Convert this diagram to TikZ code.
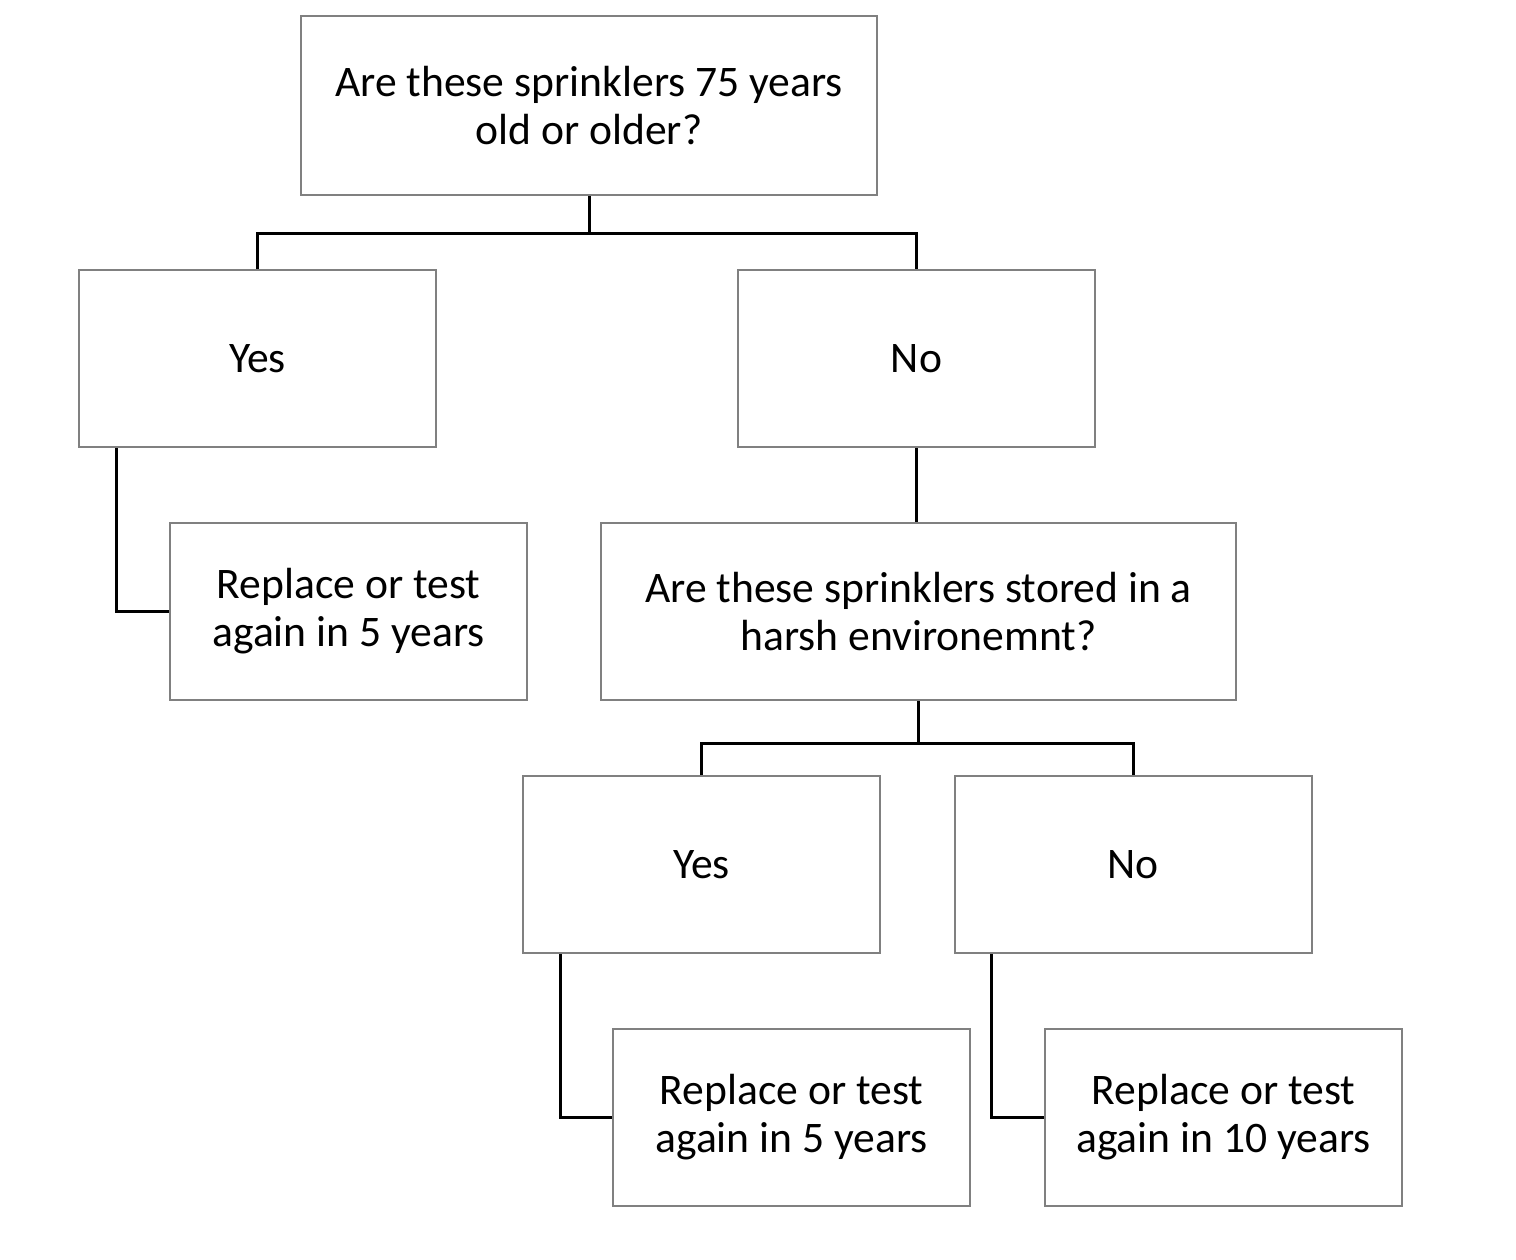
\documentclass[tikz,border=0pt]{standalone}
\usepackage{fontspec}
\setmainfont{Carlito}
\usepackage{xcolor}
\usetikzlibrary{calc}

\begin{document}
\begin{tikzpicture}[x=0.5pt,y=-0.5pt]
		\tikzset{
		    box/.style={rectangle,draw=black!50,line width=1pt,minimum width=178.5pt,minimum height=88.5pt,align=center,font=\fontsize{21.8}{24}\selectfont},
		    edge/.style={line width=1.5pt,black}
		}
		\useasboundingbox (0,0) rectangle (1516,1259);

		% vertices
		\node[box,minimum width=288pt,minimum height=89.5pt] (top) at (589,105.5) {Are these sprinklers 75 years\\old or older?};
		\node[box] (yes1) at (257.5,358.5) {Yes};
		\node[box] (no1) at (916.5,358.5) {No};
		\node[box] (rep1) at (348.5,611.5) {Replace or test\\again in 5 years};
		\node[box,minimum width=317.5pt] (harsh) at (918.5,611.5) {Are these sprinklers stored in a\\harsh environemnt?};
		\node[box] (yes2) at (701.5,864.5) {Yes};
		\node[box] (no2) at (1133,864.5) {No};
		\node[box] (rep2) at (791.5,1117.5) {Replace or test\\again in 5 years};
		\node[box] (rep3) at (1223.5,1117.5) {Replace or test\\again in 10 years};

		%edges
		\draw[edge] (top.south) -- ++(0,37) coordinate (split1);
		\draw[edge] (yes1.north) |- (split1) -| (no1.north);
		\draw[edge] ([xshift=19pt]yes1.south west) |- (rep1.west);
		\draw[edge] (no1.south) -- (no1.south |- harsh.north);
		\draw[edge] (harsh.south) -- ++(0,42) coordinate (split2);
		\draw[edge] (yes2.north) |- (split2) -| (no2.north);
		\draw[edge] ([xshift=19pt]yes2.south west) |- (rep2.west);
		\draw[edge] ([xshift=19pt]no2.south west) |- (rep3.west);

\end{tikzpicture}
\end{document}
